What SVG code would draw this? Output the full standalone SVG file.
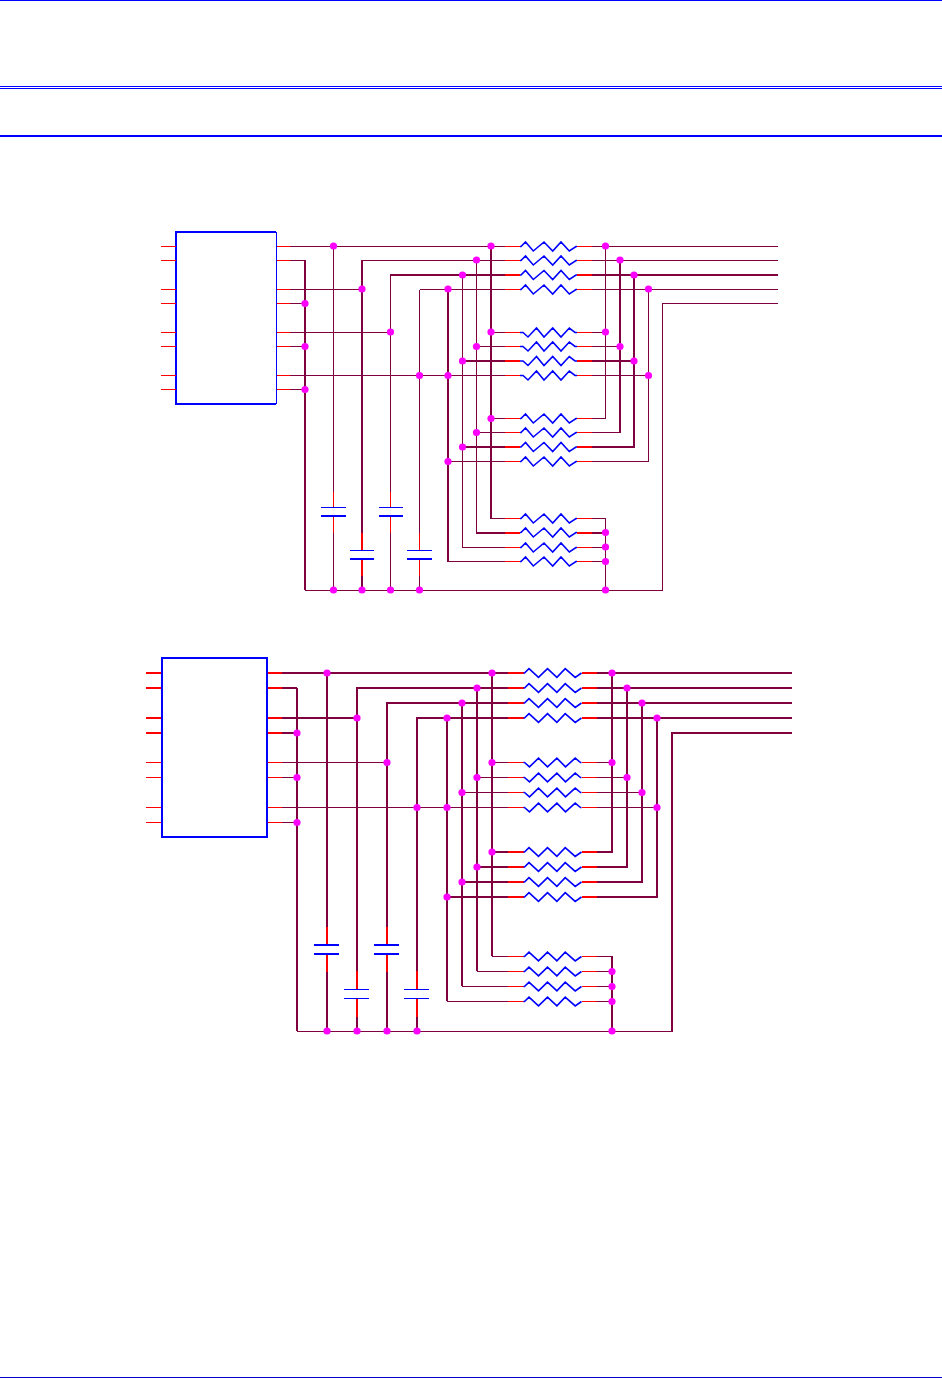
<svg xmlns="http://www.w3.org/2000/svg" xmlns:xlink="http://www.w3.org/1999/xlink" width="942" height="1378" viewBox="0 0 942 1378">
<style>
.w{fill:none;stroke:#800040;shape-rendering:crispEdges}
.t{stroke-width:1}
.k{stroke-width:2}
.lead{fill:none;stroke:#ff0000;shape-rendering:crispEdges}
.zig{fill:none;stroke:#0000ff;stroke-width:1.6}
.plate{fill:none;stroke:#0000ff;shape-rendering:crispEdges}
.box{fill:none;stroke:#0000ff;shape-rendering:crispEdges}
.dot{fill:#ff00ff}
.rule{fill:#0000ff}
</style>
<defs>
<g id="ra"><path class="lead" d="M-15 0H0M57 0H72"/><path class="zig" d="M0 0H1L5.5-4.5L13.3 4.5L24-4.5L32.7 4.5L41-4.5L49.3 4.5L56 0H57"/></g>
<g id="rb"><path class="lead" d="M-15 0H0M57 0H72"/><path class="zig" d="M0 0H3L8 4.5L16.5-4.5L24 4.5L32.7-4.5L41 4.5L49.3-4.5L55 0H57"/></g>
<g id="rc"><path class="lead" d="M-15.5 0H0M58 0H73.5"/><path class="zig" d="M0 0H1L5.5-4.4L15 4.4L24-4.4L33.4 4.4L41.7-4.4L51.7 4.4L58 0"/></g>
<g id="rd"><path class="lead" d="M-15.5 0H0M58 0H73.5"/><path class="zig" d="M0 0H1L6 4.4L15-4.4L24 4.4L33.4-4.4L42 4.4L51.7-4.4L57 0H58"/></g>
<circle id="j" class="dot" r="3.6"/>
</defs>

<g id="rules">
<rect class="rule" x="0" y="0" width="942" height="1"/>
<rect class="rule" x="0" y="86" width="942" height="1"/>
<rect class="rule" x="0" y="88" width="942" height="1"/>
<rect class="rule" x="0" y="135" width="942" height="2"/>
<rect x="0" y="1377" width="942" height="1" fill="#0000c8"/>
</g>

<g id="connectors">
<!-- upper circuit: supply rails and capacitor branches -->
<path class="w t" d="M290 246.5H505M592 246.5H777.5M333.5 246.5V492M333.5 533V590.5"/>
<path class="w t" d="M290 260.5H305"/>
<path class="w k" d="M305 260V590"/>
<path class="w t" d="M305 590.5H662.5V303.5H777.5"/>
<path class="w t" d="M290 289.5H362M290 303.5H305M290 332.5H390.5M290 346.5H305M290 375.5H505M592 375.5H648.5M290 389.5H305"/>
<path class="w t" d="M362 260.5H505M592 260.5H777.5"/>
<path class="w k" d="M362 260V533M362 576V590"/>
<path class="w k" d="M390 275H505M592 275H777.5"/>
<path class="w t" d="M390.5 275V492M390.5 533V590"/>
<path class="w t" d="M419.5 289.5H505M592 289.5H777.5M419.5 289.5V533M419.5 576V590"/>
<!-- upper circuit: resistor buses -->
<path class="w k" d="M448 289V562M491 246V519"/>
<path class="w t" d="M462.5 275V547.5M476.5 260.5V532.5"/>
<path class="w k" d="M620 260V433M634 275V447"/>
<path class="w t" d="M605.5 246.5V418.5M648.5 289.5V461.5M605.5 518.5V590.5"/>
<!-- upper circuit: resistor rows -->
<path class="w t" d="M491 332.5H505M592 332.5H605.5M476.5 346.5H505M592 346.5H620M491 418.5H505M592 418.5H605.5M476.5 432.5H505M592 432.5H620M448 461.5H505M592 461.5H648.5"/>
<path class="w k" d="M462 361H505M592 361H634M462 447H505M592 447H635"/>
<path class="w t" d="M491 518.5H505M592 518.5H605.5M462.5 547.5H505M592 547.5H605.5M448 561.5H505M592 561.5H605.5"/>
<path class="w k" d="M476 532.5H505M592 532.5H605"/>
<!-- lower circuit -->
<path class="w k" d="M282 673H508M597 673H792M282 688H297M297 688V1031M327 673V927M327 972V1031"/>
<path class="w k" d="M356 688H508M597 688H792M357 688V971M357 1017V1031M386 703H508M597 703H792M387 703V927M387 972V1031"/>
<path class="w k" d="M282 718H357M416 718H508M597 718H792M417 718V971M417 1017V1031M282 733H297M792 733H672V1032"/>
<path class="w t" d="M282 762.5H387M282 777.5H297M282 807.5H508M597 807.5H657M282 822.5H297"/>
<path class="w t" d="M492 762.5H508M597 762.5H612M477 777.5H508M597 777.5H627M462 792.5H508M597 792.5H642"/>
<path class="w k" d="M447 718V1001M462 703V986M477 688V971M492 673V956"/>
<path class="w k" d="M612 673V852H597M508 852H492M627 688V867H597M508 867H477M642 703V882H597M508 882H462M657 718V897H597M508 897H447"/>
<path class="w t" d="M492 956.5H508M597 956.5H612M477 971.5H508M597 971.5H612M462 986.5H508M597 986.5H612M447 1001.5H508M597 1001.5H612"/>
<path class="w k" d="M612 956V1031"/>
<path class="w t" d="M297 1031.5H672"/>
</g>

<g id="U1">
<path class="box" stroke-width="2" d="M176 232H276M176 404H276M176 231V405"/>
<path class="box" stroke-width="1" d="M276.5 232V404"/>
<path class="lead" stroke-width="1" d="M161 246.5H176M161 260.5H176M161 289.5H176M161 303.5H176M161 332.5H176M161 346.5H176M161 375.5H176M161 389.5H176M277 246.5H290M277 260.5H290M277 289.5H290M277 303.5H290M277 332.5H290M277 346.5H290M277 375.5H290M277 389.5H290"/>
</g>
<g id="U2">
<path class="box" stroke-width="2" d="M162 658H267M162 837H267M162 657V838M267 657V838"/>
<path class="lead" stroke-width="2" d="M146 673H161M146 688H161M146 718H161M146 733H161M268 673H282M268 688H282M268 718H282M268 733H282"/>
<path class="lead" stroke-width="1" d="M146 762.5H161M146 777.5H161M146 807.5H161M146 822.5H161M268 762.5H282M268 777.5H282M268 807.5H282M268 822.5H282"/>
</g>

<g id="R1" stroke-width="1"><use href="#ra" x="520" y="246.5"/></g>
<g id="R2" stroke-width="1"><use href="#ra" x="520" y="260.5"/></g>
<g id="R3" stroke-width="2"><use href="#ra" x="520" y="275"/></g>
<g id="R4" stroke-width="1"><use href="#ra" x="520" y="289.5"/></g>
<g id="R5" stroke-width="1"><use href="#rb" x="520" y="332.5"/></g>
<g id="R6" stroke-width="1"><use href="#rb" x="520" y="346.5"/></g>
<g id="R7" stroke-width="2"><use href="#rb" x="520" y="361"/></g>
<g id="R8" stroke-width="1"><use href="#rb" x="520" y="375.5"/></g>
<g id="R9" stroke-width="1"><use href="#ra" x="520" y="418.5"/></g>
<g id="R10" stroke-width="1"><use href="#ra" x="520" y="432.5"/></g>
<g id="R11" stroke-width="2"><use href="#ra" x="520" y="447"/></g>
<g id="R12" stroke-width="1"><use href="#ra" x="520" y="461.5"/></g>
<g id="R13" stroke-width="1"><use href="#ra" x="520" y="518.5"/></g>
<g id="R14" stroke-width="2"><use href="#ra" x="520" y="532.5"/></g>
<g id="R15" stroke-width="1"><use href="#ra" x="520" y="547.5"/></g>
<g id="R16" stroke-width="1"><use href="#ra" x="520" y="561.5"/></g>

<g id="R17" stroke-width="2"><use href="#rc" x="523.5" y="673"/></g>
<g id="R18" stroke-width="2"><use href="#rc" x="523.5" y="688"/></g>
<g id="R19" stroke-width="2"><use href="#rc" x="523.5" y="703"/></g>
<g id="R20" stroke-width="2"><use href="#rc" x="523.5" y="718"/></g>
<g id="R21" stroke-width="1"><use href="#rd" x="523.5" y="762.5"/></g>
<g id="R22" stroke-width="1"><use href="#rd" x="523.5" y="777.5"/></g>
<g id="R23" stroke-width="1"><use href="#rd" x="523.5" y="792.5"/></g>
<g id="R24" stroke-width="1"><use href="#rd" x="523.5" y="807.5"/></g>
<g id="R25" stroke-width="2"><use href="#rc" x="523.5" y="852"/></g>
<g id="R26" stroke-width="2"><use href="#rc" x="523.5" y="867"/></g>
<g id="R27" stroke-width="2"><use href="#rc" x="523.5" y="882"/></g>
<g id="R28" stroke-width="2"><use href="#rc" x="523.5" y="897"/></g>
<g id="R29" stroke-width="1"><use href="#rc" x="523.5" y="956.5"/></g>
<g id="R30" stroke-width="1"><use href="#rc" x="523.5" y="971.5"/></g>
<g id="R31" stroke-width="1"><use href="#rc" x="523.5" y="986.5"/></g>
<g id="R32" stroke-width="1"><use href="#rc" x="523.5" y="1001.5"/></g>

<g id="C1"><path class="lead" d="M333.5 492V507M333.5 516V533" stroke-width="1"/><path class="plate" stroke-width="1" d="M321 507.5H346"/><path class="plate" stroke-width="2" d="M321 516H346"/></g>
<g id="C2"><path class="lead" d="M362 533V550M362 559V576" stroke-width="2"/><path class="plate" stroke-width="1" d="M350 550.5H374"/><path class="plate" stroke-width="2" d="M350 559H374"/></g>
<g id="C3"><path class="lead" d="M390.5 492V507M390.5 516V533" stroke-width="1"/><path class="plate" stroke-width="1" d="M379 507.5H403"/><path class="plate" stroke-width="2" d="M379 516H403"/></g>
<g id="C4"><path class="lead" d="M419.5 533V550M419.5 559V576" stroke-width="1"/><path class="plate" stroke-width="1" d="M407 550.5H432"/><path class="plate" stroke-width="2" d="M407 559H432"/></g>
<g id="C5"><path class="lead" d="M327 927V945M327 954V972" stroke-width="2"/><path class="plate" stroke-width="2" d="M314 945H339M314 954H339"/></g>
<g id="C6"><path class="lead" d="M357 971V989M357 998V1017" stroke-width="2"/><path class="plate" stroke-width="1" d="M344 989.5H369M344 998.5H369"/></g>
<g id="C7"><path class="lead" d="M387 927V945M387 954V972" stroke-width="2"/><path class="plate" stroke-width="2" d="M374 945H399M374 954H399"/></g>
<g id="C8"><path class="lead" d="M417 971V989M417 998V1017" stroke-width="2"/><path class="plate" stroke-width="1" d="M404 989.5H429M404 998.5H429"/></g>

<g id="junctions">
<use href="#j" x="333.5" y="246"/><use href="#j" x="491" y="246"/><use href="#j" x="605.5" y="246"/>
<use href="#j" x="476.5" y="260"/><use href="#j" x="620" y="260"/>
<use href="#j" x="462.5" y="275"/><use href="#j" x="634" y="275"/>
<use href="#j" x="448" y="289"/><use href="#j" x="648.5" y="289"/><use href="#j" x="362" y="289"/>
<use href="#j" x="305" y="303.5"/><use href="#j" x="305" y="346.5"/><use href="#j" x="305" y="389.5"/>
<use href="#j" x="390.5" y="332"/><use href="#j" x="419.5" y="375.5"/><use href="#j" x="448" y="375.5"/><use href="#j" x="648.5" y="375.5"/>
<use href="#j" x="491" y="332"/><use href="#j" x="605.5" y="332"/><use href="#j" x="476.5" y="346.5"/><use href="#j" x="620" y="346.5"/>
<use href="#j" x="462.5" y="361"/><use href="#j" x="634" y="361"/>
<use href="#j" x="491" y="418.5"/><use href="#j" x="476.5" y="432.5"/><use href="#j" x="462.5" y="447"/><use href="#j" x="448" y="461.5"/>
<use href="#j" x="605.5" y="532.5"/><use href="#j" x="605.5" y="547"/><use href="#j" x="605.5" y="561.5"/>
<use href="#j" x="333.5" y="590"/><use href="#j" x="362" y="590"/><use href="#j" x="390.5" y="590"/><use href="#j" x="419.5" y="590"/><use href="#j" x="605.5" y="590"/>

<use href="#j" x="327" y="673"/><use href="#j" x="492" y="673"/><use href="#j" x="612" y="673"/>
<use href="#j" x="477" y="688"/><use href="#j" x="627" y="688"/>
<use href="#j" x="462" y="703"/><use href="#j" x="642" y="703"/>
<use href="#j" x="447" y="718"/><use href="#j" x="657" y="718"/><use href="#j" x="357" y="718"/>
<use href="#j" x="297" y="733"/><use href="#j" x="297" y="777.5"/><use href="#j" x="297" y="822.5"/>
<use href="#j" x="387" y="762.5"/><use href="#j" x="417" y="807.5"/><use href="#j" x="447" y="807.5"/><use href="#j" x="657" y="807.5"/>
<use href="#j" x="492" y="762.5"/><use href="#j" x="612" y="762.5"/><use href="#j" x="477" y="777.5"/><use href="#j" x="627" y="777.5"/>
<use href="#j" x="462" y="792.5"/><use href="#j" x="642" y="792.5"/>
<use href="#j" x="492" y="852"/><use href="#j" x="477" y="867"/><use href="#j" x="462" y="882"/><use href="#j" x="447" y="897"/>
<use href="#j" x="612" y="971.5"/><use href="#j" x="612" y="986.5"/><use href="#j" x="612" y="1001.5"/>
<use href="#j" x="327" y="1031"/><use href="#j" x="357" y="1031"/><use href="#j" x="387" y="1031"/><use href="#j" x="417" y="1031"/><use href="#j" x="612" y="1031"/>
</g>
</svg>
